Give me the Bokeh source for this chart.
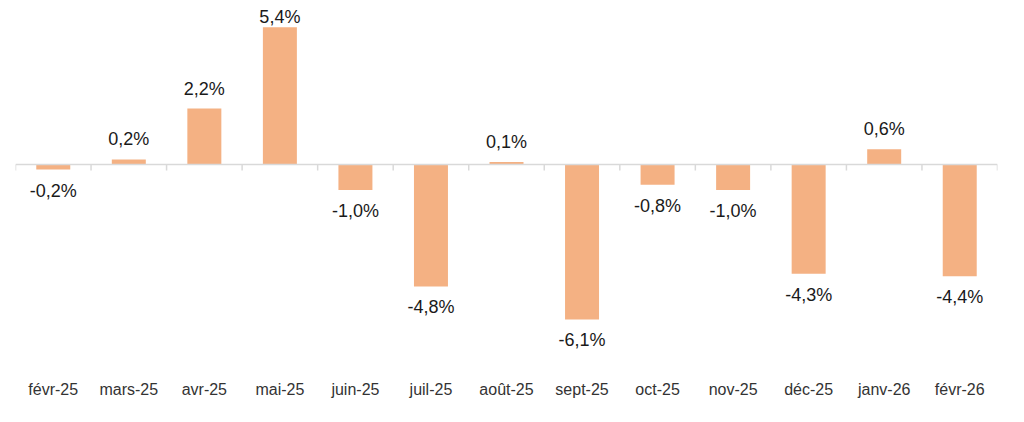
from bokeh.plotting import figure
from bokeh.models import Range1d, LinearAxis, FixedTicker, ColumnDataSource, Span
from bokeh.core.properties import value
from bokeh.embed import file_html
from bokeh.resources import INLINE

months = ["févr-25", "mars-25", "avr-25", "mai-25", "juin-25", "juil-25", "août-25",
          "sept-25", "oct-25", "nov-25", "déc-25", "janv-26", "févr-26"]
changes = [-0.2, 0.2, 2.2, 5.4, -1.0, -4.8, 0.1, -6.1, -0.8, -1.0, -4.3, 0.6, -4.4]

W, H = 1016, 414
frame_top, zero_px, frame_bottom = 0, 164, 363
ppu = 25.4
y_end = (zero_px - frame_top) / ppu
y_start = -(frame_bottom - zero_px) / ppu

n = len(months)
centers = [i + 0.5 for i in range(n)]
bounds = list(range(n + 1))

p = figure(width=W, height=H, output_backend="svg", toolbar_location=None,
           x_range=Range1d(0, n), y_range=Range1d(y_start, y_end),
           x_axis_location=None, y_axis_location=None,
           min_border_left=15, min_border_right=19, min_border_top=frame_top,
           min_border_bottom=H - frame_bottom)
p.outline_line_color = None
p.grid.visible = False
p.background_fill_color = "white"
p.border_fill_color = "white"

# category labels axis
lab_ax = LinearAxis(ticker=FixedTicker(ticks=centers),
                    major_label_overrides={c: m for c, m in zip(centers, months)},
                    axis_line_color=None, major_tick_line_color=None,
                    minor_tick_line_color=None,
                    major_label_text_font="Liberation Sans",
                    major_label_text_font_size="16px",
                    major_label_text_color="#333333",
                    major_label_standoff=11)
p.add_layout(lab_ax, "below")

p.vbar(x=centers, top=changes, width=0.45, fill_color="#F4B183", line_color=None)

# zero line with tick marks at category boundaries
p.segment(x0=bounds, x1=bounds, y0=[0] * len(bounds), y1=[-6 / ppu] * len(bounds),
          line_color="#D9D9D9", line_width=1.5)
p.add_layout(Span(location=0, dimension="width", line_color="#D9D9D9", line_width=1.5))

labels = [f"{v:.1f}%".replace(".", ",") for v in changes]
offsets = []
for v in changes:
    if v >= 0:
        top_px = (y_end - v) * ppu
        offsets.append(-min(20, top_px - 16))
    else:
        offsets.append(21)
src = ColumnDataSource(dict(x=centers, y=changes, t=labels, o=offsets))
p.text(x="x", y="y", text="t", y_offset="o", source=src, text_align="center",
       text_baseline="middle", text_font=value("Liberation Sans"),
       text_font_size="18px", text_color="#1a1a1a")

open("out.html", "w").write(file_html(p, INLINE))
